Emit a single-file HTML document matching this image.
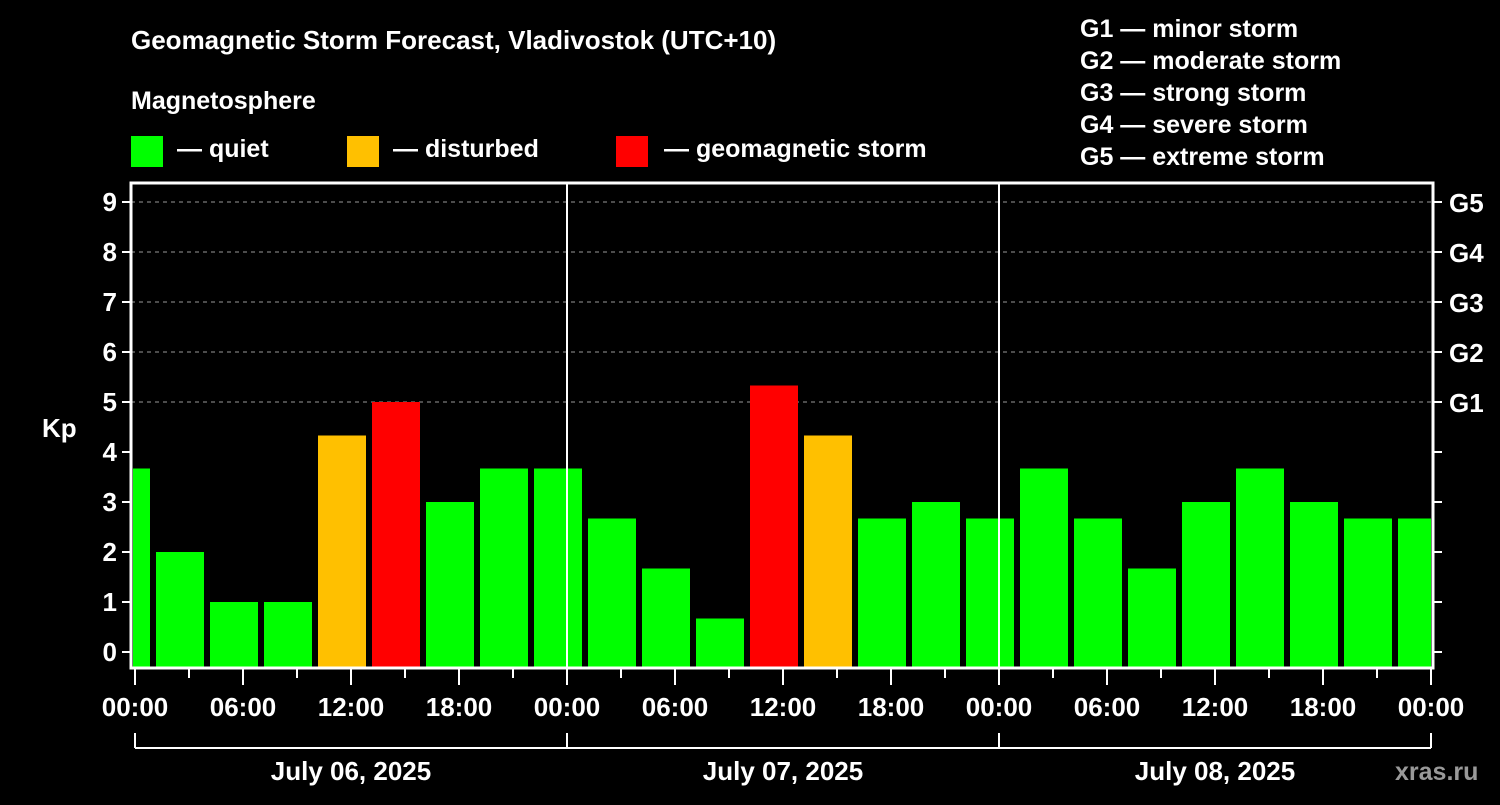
<!DOCTYPE html>
<html><head><meta charset="utf-8"><style>
html,body{margin:0;padding:0;background:#000;}
svg text{font-family:"Liberation Sans",Arial,sans-serif;font-weight:bold;fill:#fff;}
</style></head><body>
<svg id="chart" width="1500" height="800" viewBox="0 0 1500 800" xmlns="http://www.w3.org/2000/svg">
<rect width="1500" height="800" fill="#000"/>
<text x="131" y="49" font-size="26">Geomagnetic Storm Forecast, Vladivostok (UTC+10)</text>
<text x="131" y="109" font-size="25">Magnetosphere</text>
<g><rect x="131" y="136" width="32" height="31" fill="#00ff00"/><text x="177" y="157" font-size="25">— quiet</text></g>
<g><rect x="347" y="136" width="32" height="31" fill="#ffc000"/><text x="393" y="157" font-size="25">— disturbed</text></g>
<g><rect x="616" y="136" width="32" height="31" fill="#ff0000"/><text x="664" y="157" font-size="25">— geomagnetic storm</text></g>
<g font-size="25">
<text x="1080" y="37">G1 — minor storm</text>
<text x="1080" y="69">G2 — moderate storm</text>
<text x="1080" y="101">G3 — strong storm</text>
<text x="1080" y="133">G4 — severe storm</text>
<text x="1080" y="165">G5 — extreme storm</text>
</g>
<g id="plot"></g>
<text x="42" y="437" font-size="26">Kp</text>
<text x="1395" y="780" font-size="25" fill="#888" style="fill:#999">xras.ru</text>
</svg>
<script>
const kpValues=[3.67,2,1,1,4.33,5,3,3.67,3.67,2.67,1.67,0.67,5.33,4.33,2.67,3,2.67,3.67,2.67,1.67,3,3.67,3,2.67,2.67];
const barStartHour=-0.5;
const yTicks=[0,1,2,3,4,5,6,7,8,9];
const gLabels=["G1","G2","G3","G4","G5"];
const xTickLabels=["00:00","06:00","12:00","18:00","00:00","06:00","12:00","18:00","00:00","06:00","12:00","18:00","00:00"];
const dateLabels=["July 06, 2025","July 07, 2025","July 08, 2025"];

const L=131,R=1433,T=183,B=668,X0=135,PXH=18;
const xs=h=>X0+h*PXH;
const ys=k=>652-k*50;
const NS="http://www.w3.org/2000/svg";
const g=document.getElementById('plot');
function mk(tag,attrs,parent){const e=document.createElementNS(NS,tag);for(const k in attrs)e.setAttribute(k,attrs[k]);(parent||g).appendChild(e);return e;}

// grid
[5,6,7,8,9].forEach(k=>{const l=mk('line',{x1:L,x2:R,y1:ys(k),y2:ys(k),stroke:'#999','stroke-dasharray':'4,4','stroke-width':1});

});
// bars
const clip=mk('clipPath',{id:'pc'});mk('rect',{x:L+2,y:T,width:R-L-4,height:B-T},clip);
const bg=mk('g',{'clip-path':'url(#pc)'});
kpValues.forEach((v,i)=>{const c=barStartHour+i*3;const x=xs(c)-24;
const col=v>=5?'#ff0000':(v>=4?'#ffc000':'#00ff00');
const r=mk('rect',{x:x,y:ys(v),width:48,height:B-ys(v),fill:col},bg);

});
// day separators
[1,2].forEach(d=>{const l=mk('line',{x1:xs(24*d),x2:xs(24*d),y1:T,y2:B,stroke:'#fff','stroke-width':2});

});
// frame
const f=mk('rect',{x:L,y:T,width:R-L,height:B-T,fill:'none',stroke:'#fff','stroke-width':3});


// y ticks
yTicks.forEach(k=>{mk('line',{x1:L-9,x2:L,y1:ys(k),y2:ys(k),stroke:'#fff','stroke-width':2});
mk('line',{x1:R,x2:R+9,y1:ys(k),y2:ys(k),stroke:'#fff','stroke-width':2});
const t=mk('text',{x:L-14,y:ys(k)+9,'font-size':26,'text-anchor':'end'});t.textContent=k;

});
gLabels.forEach((s,i)=>{const t=mk('text',{x:R+16,y:ys(5+i)+10,'font-size':26});t.textContent=s;

});
// x ticks
for(let h=0;h<=72;h+=3){const long=h%6===0;mk('line',{x1:xs(h),x2:xs(h),y1:B,y2:B+(long?17:10),stroke:'#fff','stroke-width':2});}
xTickLabels.forEach((s,i)=>{const t=mk('text',{x:xs(i*6),y:716,'font-size':26,'text-anchor':'middle'});t.textContent=s;

});
// date bracket
mk('line',{x1:xs(0),x2:xs(72),y1:748,y2:748,stroke:'#fff','stroke-width':2});
for(let d=0;d<=3;d++)mk('line',{x1:xs(24*d),x2:xs(24*d),y1:733,y2:748,stroke:'#fff','stroke-width':2});
dateLabels.forEach((s,i)=>{const t=mk('text',{x:xs(24*i+12),y:780,'font-size':26,'text-anchor':'middle'});t.textContent=s;

});
</script>
</body></html>
